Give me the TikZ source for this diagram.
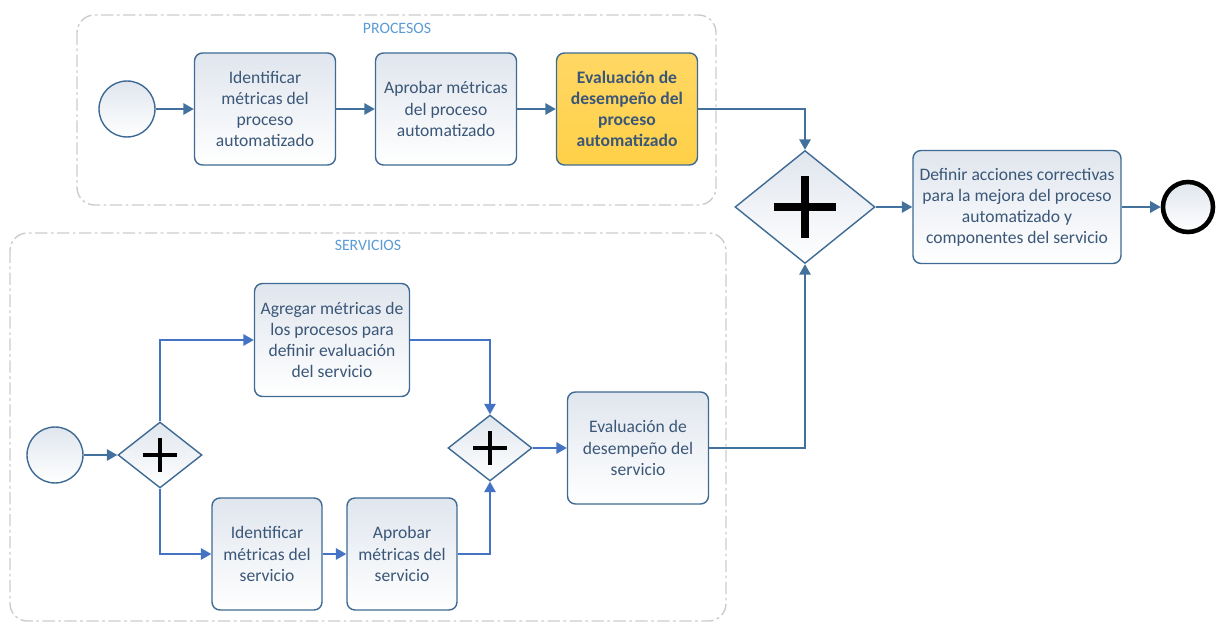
\documentclass[tikz,border=0pt]{standalone}
\usepackage{fontspec}
\setmainfont{Carlito}
\usetikzlibrary{arrows.meta, shapes.geometric}

\definecolor{taskline}{RGB}{62,106,148}
\definecolor{taskfill}{RGB}{224,230,238}
\definecolor{tasktext}{RGB}{59,87,120}
\definecolor{flowdark}{RGB}{65,113,156}
\definecolor{flowblue}{RGB}{68,114,196}
\definecolor{lanetext}{RGB}{91,155,213}
\definecolor{hilite}{RGB}{255,208,72}

\begin{document}
\begin{tikzpicture}[
        x=0.02cm, y=-0.02cm,
        task/.style={
            rectangle, rounded corners=4.5pt,
            minimum width=2.82cm, minimum height=2.24cm,
            align=center, font=\fontsize{10}{12}\selectfont, inner sep=2pt,
            draw=taskline, line width=0.8pt, text=tasktext,
            top color=taskfill, bottom color=white
        },
        event/.style={
            circle, minimum size=1.12cm, inner sep=0pt,
            draw=taskline, line width=0.8pt,
            top color=taskfill, bottom color=white
        },
        gate/.style 2 args={
            diamond, inner sep=0pt,
            draw=taskline, line width=0.8pt,
            top color=taskfill, bottom color=white,
            path picture={
                \draw[line width=#2, black]
                    ([xshift=-#1]path picture bounding box.center) --
                    ([xshift=#1]path picture bounding box.center)
                    ([yshift=-#1]path picture bounding box.center) --
                    ([yshift=#1]path picture bounding box.center);
            }
        },
        lane/.style={
            draw=gray!40, line width=0.8pt, rounded corners=10pt,
            dash pattern=on 7pt off 2pt on 1.5pt off 2pt
        },
        lbl/.style={font=\fontsize{9}{11}\selectfont, text=lanetext},
        flow/.style={
            draw=#1, line width=1pt,
            -{Triangle[length=6pt, width=6.5pt]}
        },
        flow/.default=flowdark
    ]
    \useasboundingbox (0,0) rectangle (1218,624);

    % Lanes
    \draw[lane] (77,15) rectangle (716,205);
    \node[lbl] (lproc) at (397,28) {PROCESOS};
    \draw[lane] (10,233) rectangle (726,621);
    \node[lbl] (lserv) at (368,245) {SERVICIOS};

    % Start process
    \node[event] (e1) at (127,109) {};

    % Identificar metricas proceso
    \node[task] (p1) at (265,109)
        {Identificar\\métricas del\\proceso\\automatizado};

    % Aprobar metricas proceso
    \node[task] (p2) at (446,109)
        {Aprobar métricas\\del proceso\\automatizado};

    % Evaluacion proceso
    \node[task, top color=hilite!85, bottom color=hilite,
          font=\fontsize{10}{12}\selectfont\bfseries] (p3) at (627,109)
        {Evaluación de\\desempeño del\\proceso\\automatizado};

    % Join gateway
    \node[gate={0.62cm}{4.8pt}, minimum width=2.8cm, minimum height=2.26cm]
        (gw) at (805,207) {};

    % Definir acciones
    \node[task, minimum width=4.16cm, minimum height=2.26cm] (fin) at (1017,207)
        {Definir acciones correctivas\\para la mejora del proceso\\automatizado y\\componentes del servicio};

    % End
    \node[event, draw=black, line width=2.6pt, minimum size=1.0cm] (end) at (1188,207) {};

    % Start services
    \node[event] (e2) at (55,455) {};

    % Split gateway
    \node[gate={0.34cm}{2.8pt}, minimum width=1.68cm, minimum height=1.32cm]
        (g1) at (160,455) {};

    % Agregar metricas
    \node[task, minimum width=3.1cm, minimum height=2.26cm] (sa) at (332,340)
        {Agregar métricas de\\los procesos para\\definir evaluación\\del servicio};

    % Identificar metricas servicio
    \node[task, minimum width=2.2cm] (sb) at (267,554)
        {Identificar\\métricas del\\servicio};

    % Aprobar metricas servicio
    \node[task, minimum width=2.2cm] (sc) at (402,554)
        {Aprobar\\métricas del\\servicio};

    % Merge gateway
    \node[gate={0.34cm}{2.8pt}, minimum width=1.68cm, minimum height=1.32cm]
        (g2) at (490,448) {};

    % Evaluacion servicio
    \node[task] (sd) at (638,448)
        {Evaluación de\\desempeño del\\servicio};

    % Flows
    \draw[flow] (e1) -- (p1);
    \draw[flow] (p1) -- (p2);
    \draw[flow] (p2) -- (p3);
    \draw[flow] (p3) -| (gw);
    \draw[flow] (gw) -- (fin);
    \draw[flow] (fin) -- (end);
    \draw[flow] (e2) -- (g1);
    \draw[flow=flowblue] (g1) |- (sa);
    \draw[flow=flowblue] (g1) |- (sb);
    \draw[flow=flowblue] (sb) -- (sc);
    \draw[flow=flowblue] (sa) -| (g2);
    \draw[flow=flowblue] (sc) -| (g2);
    \draw[flow=flowblue] (g2) -- (sd);
    \draw[flow] (sd) -| (gw);

\end{tikzpicture}
\end{document}
